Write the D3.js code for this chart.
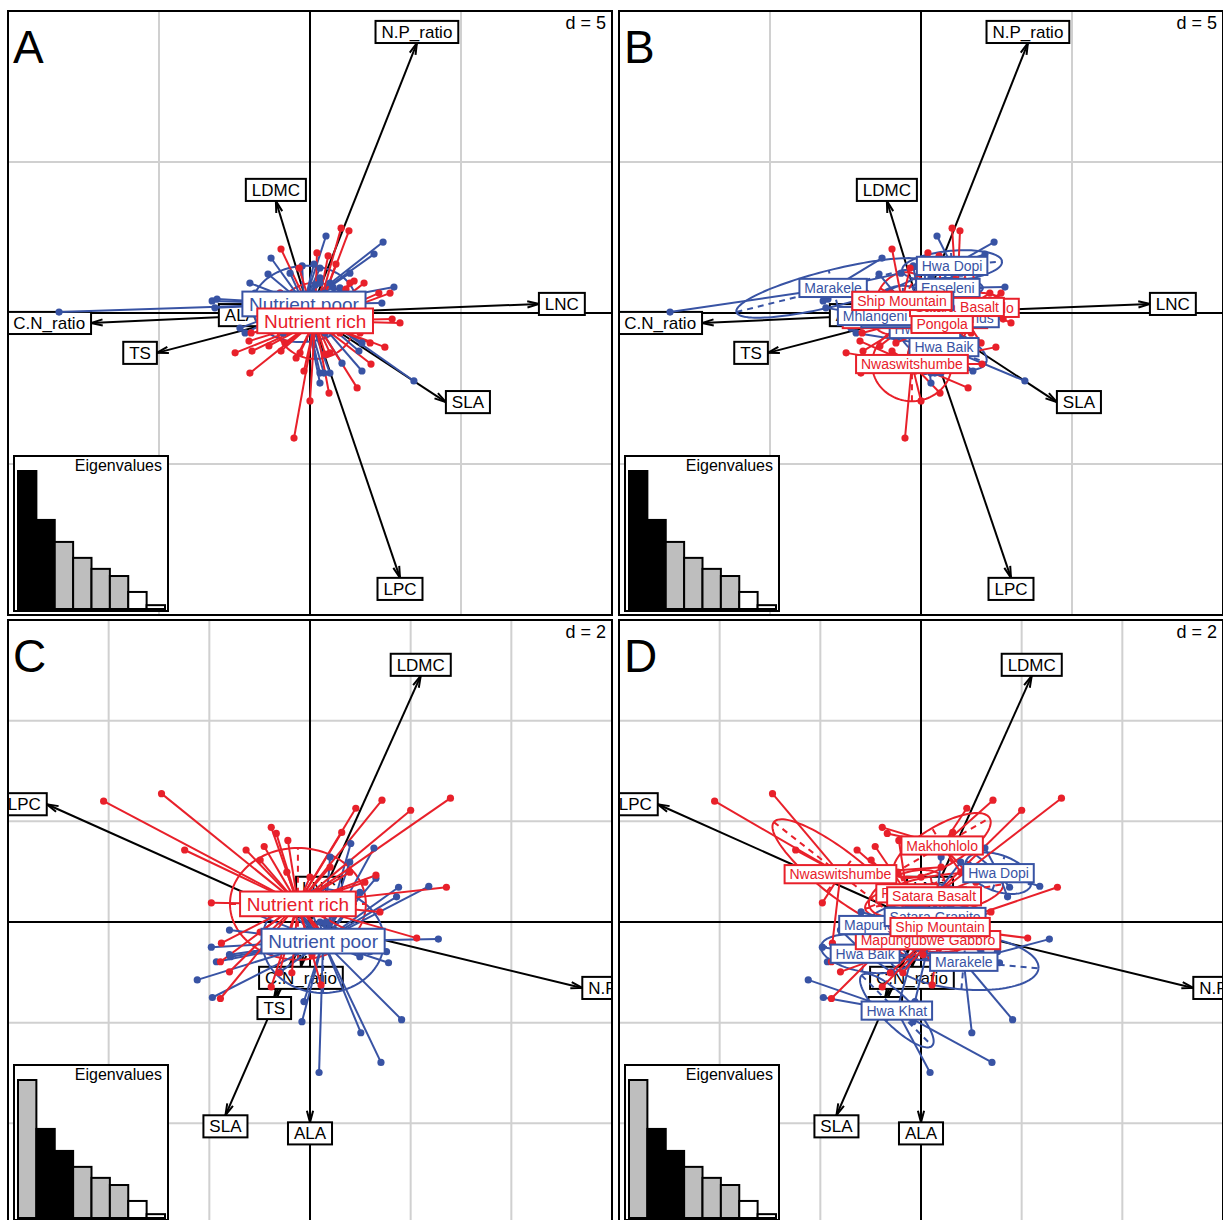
<!DOCTYPE html>
<html><head><meta charset="utf-8">
<script src="https://cdn.jsdelivr.net/npm/d3@7"></script>
<style>
body{margin:0;background:#fff}
svg text{font-family:"Liberation Sans",Arial,Helvetica,sans-serif}
</style>
</head><body>
<svg id="chart" width="1223" height="1220"></svg>
<script>
// ---------------- DATA ----------------
const variables = ["N.P_ratio","LDMC","LNC","C.N_ratio","TS","SLA","LPC","ALA"];
// variable arrows, axes 1-2 (panels A, B)
const arrowsAB_x = [3.54,-1.13,7.58,-7.25,-5.07,4.50,2.98,-1.56];
const arrowsAB_y = [8.94,3.71,0.30,-0.33,-1.32,-2.95,-8.77,-0.07];
// variable arrows, axes 2-3 (panels C, D)
const arrowsCD_x = [5.41,2.20,0.18,-0.18,-0.71,-1.68,-5.23,0.00];
const arrowsCD_y = [-1.31,4.89,0.46,-0.89,-1.49,-3.84,2.34,-3.98];

const eigenvalues = [2.51,1.62,1.22,0.93,0.73,0.60,0.31,0.07];

const nutrientGroups = ["Nutrient poor","Nutrient rich"];
const sites = ["Enseleni","Hwa Baik","Hwa Dopi","Hwa Khat","Makhohlolo","Mapungubwe Gabbro",
  "Mapungubwe Sands","Marakele","Mhlangeni","Nwaswitshumbe","Pongola","Satara Basalt",
  "Satara Granite","Ship Mountain"];
const siteNutrient = ["Nutrient poor","Nutrient poor","Nutrient poor","Nutrient poor","Nutrient rich",
  "Nutrient rich","Nutrient poor","Nutrient poor","Nutrient poor","Nutrient rich","Nutrient rich",
  "Nutrient rich","Nutrient poor","Nutrient rich"];

// individual scores on axes 1-2 : [site, x, y]
const pointsAB = [
 ["Hwa Dopi",0.53,2.55],["Hwa Dopi",2.42,2.35],["Hwa Dopi",2.12,1.95],["Hwa Dopi",1.32,1.32],["Hwa Dopi",0.66,0.99],["Hwa Dopi",0.33,1.49],["Hwa Dopi",0.99,0.83],
 ["Enseleni",2.78,0.86],["Enseleni",0.33,1.16],["Enseleni",0.50,0.66],["Enseleni",0.17,0.93],["Enseleni",0.83,0.50],["Enseleni",0.76,0.86],
 ["Marakele",-8.31,0.03],["Marakele",-3.24,0.40],["Marakele",-3.08,0.46],["Marakele",-1.29,1.82],["Marakele",-1.99,0.99],["Marakele",-0.66,1.32],["Marakele",-1.82,0.66],
 ["Mhlangeni",-3.15,0.17],["Mhlangeni",-2.32,-0.50],["Mhlangeni",-0.99,0.33],["Mhlangeni",-0.66,-0.33],["Mhlangeni",-0.50,0.07],
 ["Hwa Khat",-1.39,1.29],["Hwa Khat",-0.26,1.56],["Hwa Khat",0.13,1.62],["Hwa Khat",0.66,-1.99],["Hwa Khat",0.33,-2.32],["Hwa Khat",0.33,-1.99],
 ["Hwa Baik",3.44,-2.25],["Hwa Baik",1.72,-1.92],["Hwa Baik",1.06,-1.66],["Hwa Baik",0.46,-1.99],["Hwa Baik",-2.15,-0.66],["Hwa Baik",0.03,0.66],
 ["Mapungubwe Sands",2.38,0.33],["Mapungubwe Sands",1.72,-0.99],["Mapungubwe Sands",-0.99,0.66],["Mapungubwe Sands",-0.66,-0.17],["Mapungubwe Sands",-0.89,-0.66],
 ["Satara Granite",1.62,-1.26],["Satara Granite",0.33,0.99],["Satara Granite",-0.66,0.50],["Satara Granite",0.50,-0.66],["Satara Granite",1.36,-0.56],
 ["Ship Mountain",-0.96,2.12],["Ship Mountain",-1.66,0.17],["Ship Mountain",-0.33,-0.33],["Ship Mountain",-0.99,0.66],["Ship Mountain",0.17,0.33],["Ship Mountain",0.00,-0.56],["Ship Mountain",-0.36,1.49],
 ["Satara Basalt",1.03,2.81],["Satara Basalt",1.29,2.72],["Satara Basalt",1.99,-0.99],["Satara Basalt",1.66,-0.66],["Satara Basalt",0.66,-1.32],["Satara Basalt",0.50,-1.36],
 ["Makhohlolo",2.65,0.66],["Makhohlolo",2.98,-0.33],["Makhohlolo",1.32,0.99],["Makhohlolo",0.66,-0.17],["Makhohlolo",1.82,-0.33],["Makhohlolo",0.86,1.62],
 ["Pongola",1.46,1.06],["Pongola",1.79,0.99],["Pongola",2.28,0.66],["Pongola",-0.33,-1.32],["Pongola",-0.83,-0.99],["Pongola",-0.20,-1.92],["Pongola",0.23,1.99],["Pongola",0.60,1.89],["Pongola",1.19,0.79],
 ["Mapungubwe Gabbro",-1.95,-0.66],["Mapungubwe Gabbro",-1.92,-1.26],["Mapungubwe Gabbro",-1.36,-1.09],["Mapungubwe Gabbro",-0.46,-1.49],["Mapungubwe Gabbro",0.99,-0.66],["Mapungubwe Gabbro",2.72,-0.20],
 ["Nwaswitshumbe",-0.53,-4.14],["Nwaswitshumbe",0.00,-2.91],["Nwaswitshumbe",0.63,-2.65],["Nwaswitshumbe",1.56,-2.48],["Nwaswitshumbe",2.02,-1.69],["Nwaswitshumbe",2.48,-1.13],["Nwaswitshumbe",-2.02,-0.93],["Nwaswitshumbe",-0.96,-1.26],["Nwaswitshumbe",-1.99,-1.99],["Nwaswitshumbe",-2.48,-1.32]
];

// individual scores on axes 2-3 : [site, x, y]
const pointsCD = [
 ["Nwaswitshumbe",-4.10,2.40],["Nwaswitshumbe",-2.95,2.55],["Nwaswitshumbe",-2.49,1.43],["Nwaswitshumbe",-1.96,0.38],["Nwaswitshumbe",-1.76,-0.42],["Nwaswitshumbe",0.40,1.09],["Nwaswitshumbe",0.00,0.89],
 ["Makhohlolo",0.63,1.78],["Makhohlolo",1.43,2.42],["Makhohlolo",-0.77,1.88],["Makhohlolo",-0.67,1.76],["Makhohlolo",0.79,0.99],["Makhohlolo",1.09,0.79],["Makhohlolo",0.91,2.26],
 ["Pongola",-1.27,1.43],["Pongola",-0.91,1.50],["Pongola",-0.44,1.62],["Pongola",0.20,-0.20],["Pongola",0.40,-0.40],["Pongola",0.36,-0.51],
 ["Satara Basalt",2.00,2.22],["Satara Basalt",2.79,2.46],["Satara Basalt",1.31,0.93],["Satara Basalt",-0.99,-0.20],["Satara Basalt",-1.78,-0.79],["Satara Basalt",-1.78,-1.52],
 ["Ship Mountain",2.71,0.69],["Ship Mountain",2.12,-0.32],["Ship Mountain",-0.61,-1.01],["Ship Mountain",-0.36,-1.01],["Ship Mountain",0.22,-1.25],["Ship Mountain",-0.99,1.23],["Ship Mountain",-0.46,0.99],
 ["Mapungubwe Gabbro",-1.60,-0.99],["Mapungubwe Gabbro",-0.77,-1.29],["Mapungubwe Gabbro",1.39,0.20],["Mapungubwe Gabbro",1.19,-0.40],["Mapungubwe Gabbro",0.59,0.59],["Mapungubwe Gabbro",0.04,-0.65],
 ["Hwa Dopi",0.81,1.56],["Hwa Dopi",1.27,1.47],["Hwa Dopi",1.31,0.87],["Hwa Dopi",1.76,0.69],["Hwa Dopi",2.36,0.71],["Hwa Dopi",1.72,0.50],
 ["Marakele",2.55,-0.34],["Marakele",1.52,-0.59],["Marakele",1.56,-0.81],["Marakele",1.82,-1.94],["Marakele",-0.79,-0.40],["Marakele",-1.58,-0.69],["Marakele",1.01,-2.20],
 ["Hwa Baik",-1.60,-0.16],["Hwa Baik",-1.96,-0.50],["Hwa Baik",-1.86,-0.79],["Hwa Baik",-1.60,-0.65],["Hwa Baik",-0.59,-0.99],["Hwa Baik",0.99,-0.69],
 ["Hwa Khat",-2.24,-1.15],["Hwa Khat",-1.94,-1.50],["Hwa Khat",-0.16,-1.98],["Hwa Khat",0.18,-2.99],["Hwa Khat",1.41,-2.79],["Hwa Khat",-0.10,-0.40],
 ["Satara Granite",-0.40,0.40],["Satara Granite",0.99,0.59],["Satara Granite",-0.12,-1.58],["Satara Granite",0.59,-0.20],["Satara Granite",0.40,1.29],
 ["Mapungubwe Sands",-1.19,0.20],["Mapungubwe Sands",-0.79,-0.59],["Mapungubwe Sands",0.40,-0.40],["Mapungubwe Sands",0.59,0.30],["Mapungubwe Sands",-0.30,0.20],
 ["Enseleni",0.79,1.19],["Enseleni",-0.40,0.20],["Enseleni",0.59,0.40],["Enseleni",0.00,0.28],
 ["Mhlangeni",1.19,-0.59],["Mhlangeni",-0.20,0.20],["Mhlangeni",0.20,0.00],["Mhlangeni",0.32,0.00]
];

// class centroids [x, y] and ellipses [semi-axis a, semi-axis b, angle deg]
const groupCentroidAB = [[-0.20,0.30],[0.17,-0.26]];
const groupEllipseAB  = [[1.72,1.26,5],[1.32,1.26,0]];
const groupCentroidCD = [[0.26,-0.38],[-0.24,0.36]];
const groupEllipseCD  = [[1.21,1.03,0],[1.35,1.11,0]];

const siteCentroidAB = [[0.89,0.83],[0.76,-1.13],[1.03,1.56],[0.13,-0.53],[1.89,0.17],[-0.20,-0.20],
  [0.30,-0.17],[-2.91,0.83],[-1.52,-0.10],[-0.30,-1.69],[0.70,-0.36],[1.19,0.20],[-0.60,0.40],[-0.63,0.40]];
const siteEllipseAB = [[1.16,0.33,0],[1.49,0.60,-20],[1.66,0.50,5],[1.49,0.50,90],[0.99,0.50,0],[1.32,0.50,10],
  [1.32,0.60,0],[3.30,0.60,14],[1.16,0.40,0],[1.32,1.23,0],[1.32,0.83,60],[1.32,0.50,75],[0.83,0.50,0],[0.99,0.83,60]];
const siteCentroidCD = [[0.26,0.51],[-1.11,-0.63],[1.54,0.97],[-0.48,-1.76],[0.42,1.52],[0.14,-0.36],
  [-0.26,-0.06],[0.85,-0.79],[0.38,-0.10],[-1.60,0.95],[-0.28,0.57],[0.26,0.51],[0.28,0.10],[0.38,-0.10]];
const siteEllipseCD = [[0.59,0.24,0],[0.89,0.36,-10],[0.69,0.36,-20],[0.99,0.30,-45],[1.09,0.40,30],[0.69,0.40,0],
  [0.79,0.40,0],[1.49,0.55,-5],[0.59,0.24,0],[1.68,0.44,-38],[0.79,0.40,20],[1.39,0.40,10],[0.79,0.30,0],[0.89,0.50,0]];

// ---------------- STYLE ----------------
const groupColours = ["#3853a4","#e8202a"];
const FONT_ARROW = 17, FONT_SITE = 14, FONT_GROUP = 19;
const SIZE = 604;

const svg = d3.select("#chart");
const defs = svg.append("defs");

function measure(txt, fs) {
  const t = svg.append("text").attr("font-size", fs).attr("x", -1000).attr("y", -1000).text(txt);
  const w = t.node().getComputedTextLength();
  t.remove();
  return w;
}
function boxLabel(g, cx, cy, txt, fs, col) {
  const w = measure(txt, fs) + fs * 0.7, h = fs * 1.3;
  g.append("rect").attr("x", cx - w/2).attr("y", cy - h/2).attr("width", w).attr("height", h)
    .attr("fill", "#fff").attr("stroke", col).attr("stroke-width", 2);
  g.append("text").attr("x", cx).attr("y", cy + fs*0.36).attr("text-anchor", "middle")
    .attr("font-size", fs).attr("fill", col).text(txt);
}
function ellipseCoords(x, y, c, e) {
  const th = e[2] * Math.PI / 180;
  return d3.range(0, 361, 3).map(d => {
    const t = d * Math.PI / 180;
    return [x(c[0] + e[0]*Math.cos(t)*Math.cos(th) - e[1]*Math.sin(t)*Math.sin(th)),
            y(c[1] + e[0]*Math.cos(t)*Math.sin(th) + e[1]*Math.sin(t)*Math.cos(th))];
  });
}

const panels = [
  {letter:"A", x0:8,   y0:11,  d:5, lim:10, pts:pointsAB, ax:arrowsAB_x, ay:arrowsAB_y, by:"group", black:[0,1]},
  {letter:"B", x0:619, y0:11,  d:5, lim:10, pts:pointsAB, ax:arrowsAB_x, ay:arrowsAB_y, by:"site",  black:[0,1]},
  {letter:"C", x0:8,   y0:620, d:2, lim:6,  pts:pointsCD, ax:arrowsCD_x, ay:arrowsCD_y, by:"group", black:[1,2]},
  {letter:"D", x0:619, y0:620, d:2, lim:6,  pts:pointsCD, ax:arrowsCD_x, ay:arrowsCD_y, by:"site",  black:[1,2]}
];

panels.forEach((p, pi) => {
  const clipId = "clip" + pi;
  defs.append("clipPath").attr("id", clipId).append("rect")
    .attr("x", p.x0).attr("y", p.y0).attr("width", SIZE).attr("height", SIZE);
  const g = svg.append("g").attr("clip-path", `url(#${clipId})`);
  const x = d3.scaleLinear().domain([-p.lim, p.lim]).range([p.x0, p.x0 + SIZE]);
  const y = d3.scaleLinear().domain([-p.lim, p.lim]).range([p.y0 + SIZE, p.y0]);

  g.append("rect").attr("x", p.x0).attr("y", p.y0).attr("width", SIZE).attr("height", SIZE).attr("fill", "#fff");

  // grid
  const gridVals = d3.range(-p.lim + p.d, p.lim - 1e-9, p.d).filter(v => Math.abs(v) > 1e-9);
  g.selectAll(null).data(gridVals).join("line")
    .attr("x1", d => x(d)).attr("x2", d => x(d)).attr("y1", p.y0).attr("y2", p.y0 + SIZE)
    .attr("stroke", "#d0d0d0").attr("stroke-width", 2);
  g.selectAll(null).data(gridVals).join("line")
    .attr("y1", d => y(d)).attr("y2", d => y(d)).attr("x1", p.x0).attr("x2", p.x0 + SIZE)
    .attr("stroke", "#d0d0d0").attr("stroke-width", 2);
  g.append("line").attr("x1", x(0)).attr("x2", x(0)).attr("y1", p.y0).attr("y2", p.y0 + SIZE)
    .attr("stroke", "#000").attr("stroke-width", 2);
  g.append("line").attr("y1", y(0)).attr("y2", y(0)).attr("x1", p.x0).attr("x2", p.x0 + SIZE)
    .attr("stroke", "#000").attr("stroke-width", 2);

  // d = label
  g.append("text").attr("x", p.x0 + SIZE - 6).attr("y", p.y0 + 18).attr("text-anchor", "end")
    .attr("font-size", 18).attr("fill", "#000").text("d = " + p.d);

  // arrows
  const ga = g.append("g");
  variables.forEach((v, i) => {
    const tx = x(p.ax[i]), ty = y(p.ay[i]), ox = x(0), oy = y(0);
    ga.append("line").attr("x1", ox).attr("y1", oy).attr("x2", tx).attr("y2", ty)
      .attr("stroke", "#000").attr("stroke-width", 2);
    const ang = Math.atan2(ty - oy, tx - ox), L = 12, hw = 15 * Math.PI / 180;
    ga.append("path")
      .attr("d", `M${tx - L*Math.cos(ang - hw)},${ty - L*Math.sin(ang - hw)}L${tx},${ty}L${tx - L*Math.cos(ang + hw)},${ty - L*Math.sin(ang + hw)}`)
      .attr("fill", "none").attr("stroke", "#000").attr("stroke-width", 2);
  });
  variables.forEach((v, i) => {
    const vx = p.ax[i], vy = p.ay[i];
    const w = measure(v, FONT_ARROW) + FONT_ARROW * 0.7, h = FONT_ARROW * 1.3;
    let cx = x(vx), cy = y(vy);
    if (vx > vy && vx > -vy) cx += w/2;
    else if (vx > vy && vx <= -vy) cy += h/2;
    else if (vx <= vy && vx <= -vy) cx -= w/2;
    else cy -= h/2;
    boxLabel(ga, cx, cy, v, FONT_ARROW, "#000");
  });

  // classes
  let classes, centroids, ellipses, colourOf, classOf, fs;
  if (p.by === "group") {
    classes = nutrientGroups;
    centroids = p.pts === pointsAB ? groupCentroidAB : groupCentroidCD;
    ellipses = p.pts === pointsAB ? groupEllipseAB : groupEllipseCD;
    colourOf = k => groupColours[k];
    classOf = s => nutrientGroups.indexOf(siteNutrient[sites.indexOf(s)]);
    fs = FONT_GROUP;
  } else {
    classes = sites;
    centroids = p.pts === pointsAB ? siteCentroidAB : siteCentroidCD;
    ellipses = p.pts === pointsAB ? siteEllipseAB : siteEllipseCD;
    colourOf = k => groupColours[nutrientGroups.indexOf(siteNutrient[k])];
    classOf = s => sites.indexOf(s);
    fs = FONT_SITE;
  }
  const gs = g.append("g");
  // ellipses
  classes.forEach((c, k) => {
    const col = colourOf(k), ce = centroids[k], e = ellipses[k];
    gs.append("path").attr("d", d3.line()(ellipseCoords(x, y, ce, e)))
      .attr("fill", "none").attr("stroke", col).attr("stroke-width", 2);
    const th = e[2] * Math.PI / 180;
    gs.append("line")
      .attr("x1", x(ce[0] - e[0]*Math.cos(th))).attr("y1", y(ce[1] - e[0]*Math.sin(th)))
      .attr("x2", x(ce[0] + e[0]*Math.cos(th))).attr("y2", y(ce[1] + e[0]*Math.sin(th)))
      .attr("stroke", col).attr("stroke-width", 2).attr("stroke-dasharray", "6,5");
    gs.append("line")
      .attr("x1", x(ce[0] + e[1]*Math.sin(th))).attr("y1", y(ce[1] - e[1]*Math.cos(th)))
      .attr("x2", x(ce[0] - e[1]*Math.sin(th))).attr("y2", y(ce[1] + e[1]*Math.cos(th)))
      .attr("stroke", col).attr("stroke-width", 2).attr("stroke-dasharray", "6,5");
  });
  // stars
  classes.forEach((c, k) => {
    const col = colourOf(k), ce = centroids[k];
    p.pts.filter(r => classOf(r[0]) === k).forEach(r => {
      gs.append("line").attr("x1", x(ce[0])).attr("y1", y(ce[1])).attr("x2", x(r[1])).attr("y2", y(r[2]))
        .attr("stroke", col).attr("stroke-width", 2);
    });
  });
  // points
  classes.forEach((c, k) => {
    const col = colourOf(k);
    p.pts.filter(r => classOf(r[0]) === k).forEach(r => {
      gs.append("circle").attr("cx", x(r[1])).attr("cy", y(r[2])).attr("r", 3.6).attr("fill", col);
    });
  });
  // labels
  classes.forEach((c, k) => {
    boxLabel(gs, x(centroids[k][0]), y(centroids[k][1]), c, fs, colourOf(k));
  });

  // eigenvalue inset
  const bw = 154, bh = 155;
  const bx = p.x0 + 6, by = p.y0 + SIZE - 4 - bh;
  const ge = g.append("g");
  ge.append("rect").attr("x", bx).attr("y", by).attr("width", bw).attr("height", bh)
    .attr("fill", "#fff").attr("stroke", "#000").attr("stroke-width", 2);
  const xb = d3.scaleBand().domain(d3.range(eigenvalues.length)).range([bx + 4, bx + bw - 3]).padding(0);
  const yb = d3.scaleLinear().domain([0, d3.max(eigenvalues)]).range([by + bh - 2, by + 15]);
  eigenvalues.forEach((ev, i) => {
    const fill = p.black.includes(i) ? "#000" : (i < 6 ? "#bebebe" : "#fff");
    ge.append("rect").attr("x", xb(i)).attr("y", yb(ev)).attr("width", xb.bandwidth())
      .attr("height", yb(0) - yb(ev)).attr("fill", fill).attr("stroke", "#000").attr("stroke-width", 2);
  });
  ge.append("text").attr("x", bx + bw - 6).attr("y", by + 15).attr("text-anchor", "end")
    .attr("font-size", 16).attr("fill", "#000").text("Eigenvalues");

  // panel letter
  g.append("text").attr("x", p.x0 + 5).attr("y", p.y0 + 52).attr("font-size", 46).attr("fill", "#000").text(p.letter);

  // border
  svg.append("rect").attr("x", p.x0).attr("y", p.y0).attr("width", SIZE).attr("height", SIZE)
    .attr("fill", "none").attr("stroke", "#000").attr("stroke-width", 2);
});
</script>
</body></html>
